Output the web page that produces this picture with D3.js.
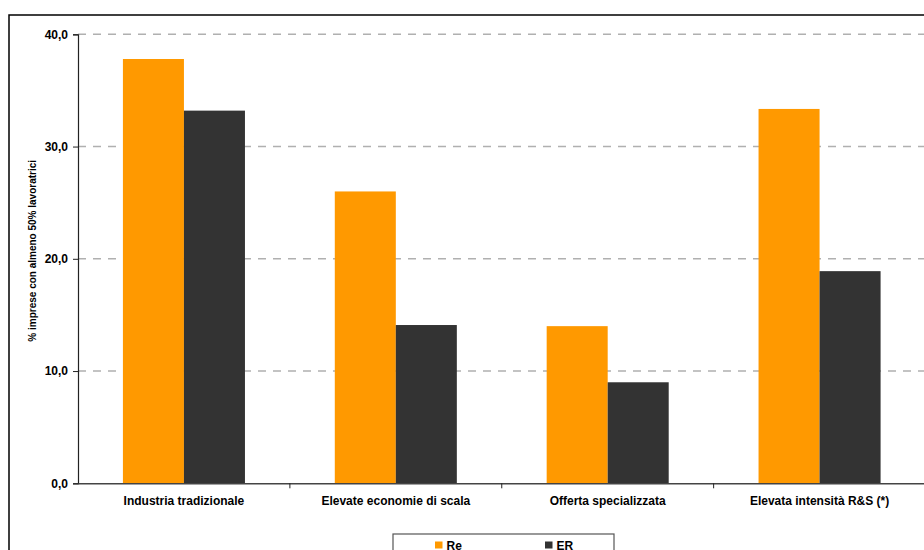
<!DOCTYPE html>
<html>
<head>
<meta charset="utf-8">
<script src="https://cdn.jsdelivr.net/npm/d3@7"></script>
<style>
  html, body { margin: 0; padding: 0; background: #fff; }
  svg { display: block; font-family: "Liberation Sans", Arial, sans-serif; font-weight: bold; }
</style>
</head>
<body>
<svg id="chart" width="924" height="550"></svg>
<script>
// Categories and series
const categories = ["Industria tradizionale", "Elevate economie di scala", "Offerta specializzata", "Elevata intensità R&S (*)"];
const seriesNames = ["Re", "ER"];
const valuesRe = [37.8, 26.0, 14.0, 33.35];
const valuesER = [33.2, 14.1, 9.0, 18.9];
const yTicks = [0, 10, 20, 30, 40];
const colors = ["#FF9900", "#333333"];
const yTitle = "% imprese con almeno 50% lavoratrici";

const svg = d3.select("#chart");
const plotLeft = 78, plotRight = 925.5, plotTop = 34.3, plotBottom = 483.3;
const labelSize = 12;

// outer frame
svg.append("rect")
  .attr("x", 9).attr("y", 15)
  .attr("width", 940).attr("height", 560)
  .attr("fill", "none").attr("stroke", "#000").attr("stroke-width", 1.5);

const x = d3.scaleBand().domain(categories).range([plotLeft, plotRight]).padding(0);
const groupW = x.bandwidth() * 0.576;
const xs = d3.scaleBand().domain(seriesNames).range([0, groupW]).padding(0);
const y = d3.scaleLinear().domain([0, 40]).range([plotBottom, plotTop]);

// dashed gridlines
svg.append("g").selectAll("line")
  .data(yTicks.filter(d => d > 0))
  .join("line")
  .attr("x1", plotLeft).attr("x2", plotRight)
  .attr("y1", d => y(d)).attr("y2", d => y(d))
  .attr("stroke", "#b0b0b0").attr("stroke-width", 1.6)
  .attr("stroke-dasharray", "8,7");

// bars
const rows = categories.map((c, i) => ({ cat: c, vals: [valuesRe[i], valuesER[i]] }));
const groups = svg.append("g").selectAll("g")
  .data(rows).join("g")
  .attr("transform", d => `translate(${x(d.cat) + (x.bandwidth() - groupW) / 2},0)`);
groups.selectAll("rect")
  .data(d => d.vals.map((v, j) => ({ s: seriesNames[j], v, j })))
  .join("rect")
  .attr("x", d => xs(d.s))
  .attr("width", xs.bandwidth())
  .attr("y", d => y(d.v))
  .attr("height", d => y(0) - y(d.v))
  .attr("fill", d => colors[d.j]);

// y axis
const yAxis = d3.axisLeft(y).tickValues(yTicks).tickSize(5).tickPadding(5)
  .tickFormat(d => d3.format(".1f")(d).replace(".", ","));
const gy = svg.append("g").attr("transform", `translate(${plotLeft},0)`).call(yAxis);
gy.select(".domain").attr("stroke", "#222").attr("stroke-width", 1.2);
gy.selectAll(".tick line").attr("stroke", "#222");
gy.selectAll("text").attr("font-size", labelSize).attr("font-weight", "bold")
  .attr("font-family", "Liberation Sans, Arial, sans-serif").attr("fill", "#000");

// x axis
const xAxis = d3.axisBottom(x).tickSize(0).tickPadding(13);
const gx = svg.append("g").attr("transform", `translate(0,${plotBottom})`).call(xAxis);
gx.select(".domain").attr("stroke", "#444").attr("stroke-width", 1.4);
gx.selectAll("text").attr("font-size", labelSize).attr("font-weight", "bold")
  .attr("font-family", "Liberation Sans, Arial, sans-serif").attr("fill", "#000");
// category separator ticks
svg.append("g").selectAll("line")
  .data(categories.slice(1))
  .join("line")
  .attr("x1", d => x(d)).attr("x2", d => x(d))
  .attr("y1", plotBottom).attr("y2", plotBottom + 5)
  .attr("stroke", "#222");

// y title
svg.append("text")
  .attr("transform", `translate(32,${(plotTop + plotBottom) / 2 - 8}) rotate(-90)`)
  .attr("text-anchor", "middle")
  .attr("dominant-baseline", "central")
  .attr("font-size", 10)
  .text(yTitle);

// legend
const lg = svg.append("g");
lg.append("rect").attr("x", 393).attr("y", 534).attr("width", 221).attr("height", 40)
  .attr("fill", "#fff").attr("stroke", "#555").attr("stroke-width", 1.2);
const legendX = [435, 545];
seriesNames.forEach((s, i) => {
  lg.append("rect").attr("x", legendX[i]).attr("y", 541.5).attr("width", 7.5).attr("height", 7)
    .attr("fill", colors[i]);
  lg.append("text").attr("x", legendX[i] + 11.5).attr("y", 549.5)
    .attr("font-size", labelSize).text(s);
});
</script>
</body>
</html>
